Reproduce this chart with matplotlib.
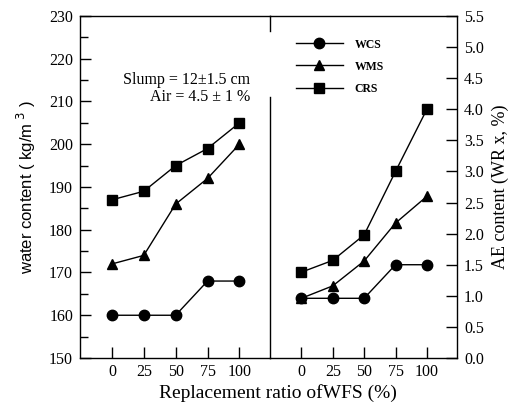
import numpy as np
import matplotlib.pyplot as plt
from matplotlib.ticker import MultipleLocator
from matplotlib.lines import Line2D

# Replacement ratio of WFS (%)
ratio = [0, 25, 50, 75, 100]

# water content (kg/m3)
water_wcs = [160, 160, 160, 168, 168]
water_wms = [172, 174, 186, 192, 200]
water_crs = [187, 189, 195, 199, 205]

# AE content (WR x, %)
ae_wcs = [0.96, 0.96, 0.96, 1.5, 1.5]
ae_wms = [0.96, 1.16, 1.56, 2.17, 2.6]
ae_crs = [1.38, 1.57, 1.98, 3.0, 4.0]

series = ['WCS', 'WMS', 'CRS']
markers = ['o', '^', 's']

serif = 'Liberation Serif'
sans = 'Liberation Sans'

fig = plt.figure(figsize=(5.16, 4.05), dpi=100)
L, M, R, B, T = 80 / 516, 270 / 516, 457 / 516, 1 - 358 / 405, 1 - 16 / 405
ax1 = fig.add_axes([L, B, M - L, T - B])
ax2 = fig.add_axes([M, B, R - M, T - B])
ax2.patch.set_visible(False)

for ys, mk in zip([water_wcs, water_wms, water_crs], markers):
    ax1.plot(ratio, ys, color='k', lw=1, marker=mk, ms=7.5, mfc='k', mec='k')
for ys, mk in zip([ae_wcs, ae_wms, ae_crs], markers):
    ax2.plot(ratio, ys, color='k', lw=1, marker=mk, ms=7.5, mfc='k', mec='k')

for ax in (ax1, ax2):
    ax.set_xlim(-25, 124)
    ax.set_xticks(ratio)
    ax.tick_params(axis='x', direction='in', length=8, width=1, pad=4, labelsize=11.5)
    for lab in ax.get_xticklabels():
        lab.set_fontfamily(serif)
    for sp in ax.spines.values():
        sp.set_linewidth(1)

# left panel
ax1.set_ylim(150, 230)
ax1.yaxis.set_major_locator(MultipleLocator(10))
ax1.yaxis.set_minor_locator(MultipleLocator(5))
ax1.tick_params(axis='y', which='major', direction='in', length=8, width=1, pad=5, labelsize=11.5)
ax1.tick_params(axis='y', which='minor', direction='in', length=6, width=1)
for lab in ax1.get_yticklabels():
    lab.set_fontfamily(serif)
ax1.spines['right'].set_bounds(150, 211)
ax1.plot([1, 1], [1, 0.955], transform=ax1.transAxes, color='k', lw=1, clip_on=False)
ax1.set_ylabel('water content ( kg/m$^{\\ 3}$ )', family=sans, fontsize=12, labelpad=8)

ax1.text(0.895, 0.813, 'Slump = 12\u00b11.5 cm', transform=ax1.transAxes, ha='right',
         va='center', family=serif, fontsize=11.5)
ax1.text(0.895, 0.763, 'Air = 4.5 \u00b1 1 %', transform=ax1.transAxes, ha='right',
         va='center', family=serif, fontsize=11.5)

# right panel
ax2.set_ylim(0, 5.5)
ax2.spines['left'].set_visible(False)
ax2.yaxis.set_major_locator(MultipleLocator(0.5))
ax2.yaxis.tick_right()
ax2.yaxis.set_label_position('right')
ax2.tick_params(axis='y', direction='in', length=8, width=1, pad=5, labelsize=11.5)
ax2.yaxis.set_major_formatter(plt.FuncFormatter(lambda v, p: f'{v:.1f}'))
for lab in ax2.get_yticklabels():
    lab.set_fontfamily(serif)
ax2.set_ylabel('AE content (WR x, %)', family=serif, fontsize=13, labelpad=6)

handles = [Line2D([], [], color='k', lw=1, marker=mk, ms=7.5) for mk in markers]
ax2.legend(handles, series, loc='upper left', bbox_to_anchor=(0.08, 0.965), frameon=False,
           handlelength=4.0, labelspacing=0.85, handletextpad=1.0,
           prop={'family': serif, 'size': 8.5, 'weight': 'bold'})

fig.text(278 / 516, 0.03, 'Replacement ratio ofWFS (%)', ha='center', va='center',
         family=serif, fontsize=14)

fig.savefig('out.png', dpi=100)
